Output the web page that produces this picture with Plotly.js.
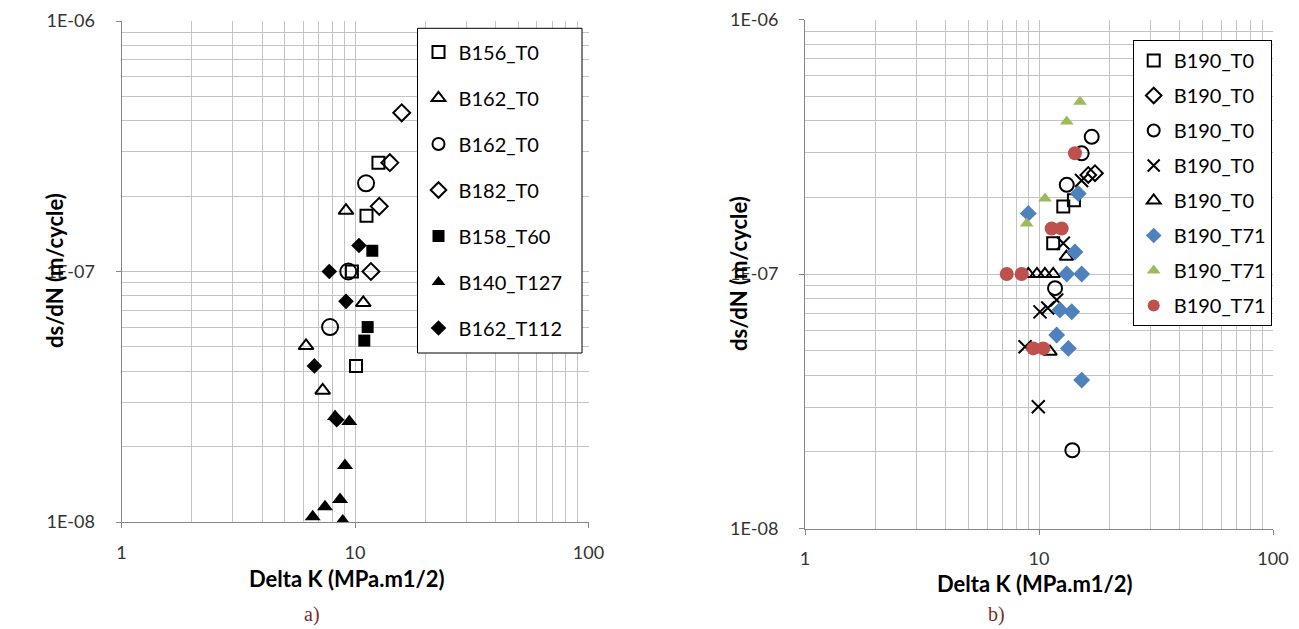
<!DOCTYPE html>
<html>
<head>
<meta charset="utf-8">
<script src="https://cdn.plot.ly/plotly-3.0.1.min.js"></script>
<style>html,body{margin:0;padding:0;background:#fff;}#chart{width:1299px;height:629px;}</style>
</head>
<body>
<div id="chart"></div>
<script>
// ---------- Data: chart a) ----------
const aNames = ['B156_T0', 'B162_T0', 'B162_T0', 'B182_T0', 'B158_T60', 'B140_T127', 'B162_T112'];
const aB156T0_x = [12.6, 11.2, 9.7, 10.1];
const aB156T0_y = [2.72e-7, 1.67e-7, 1.0e-7, 4.2e-8];
const aB162T0tri_x = [9.15, 10.85, 6.17, 7.27];
const aB162T0tri_y = [1.75e-7, 7.5e-8, 5.05e-8, 3.35e-8];
const aB162T0circ_x = [11.15, 9.36, 7.82];
const aB162T0circ_y = [2.25e-7, 1.0e-7, 6.0e-8];
const aB182T0_x = [15.85, 14.1, 12.7, 11.7];
const aB182T0_y = [4.3e-7, 2.72e-7, 1.82e-7, 1.0e-7];
const aB158T60_x = [11.86, 11.33, 10.96];
const aB158T60_y = [1.21e-7, 6.0e-8, 5.3e-8];
const aB140T127_x = [8.21, 9.45, 9.06, 8.63, 7.44, 6.59, 8.86];
const aB140T127_y = [2.64e-8, 2.52e-8, 1.68e-8, 1.23e-8, 1.15e-8, 1.05e-8, 1.01e-8];
const aB162T112_x = [10.4, 7.76, 9.15, 6.70, 8.35];
const aB162T112_y = [1.27e-7, 1.0e-7, 7.6e-8, 4.2e-8, 2.56e-8];

// ---------- Data: chart b) ----------
const bNames = ['B190_T0', 'B190_T0', 'B190_T0', 'B190_T0', 'B190_T0', 'B190_T71', 'B190_T71', 'B190_T71'];
const bSq_x = [12.7, 14.1, 11.5];
const bSq_y = [1.84e-7, 1.95e-7, 1.32e-7];
const bDia_x = [17.35, 16.24];
const bDia_y = [2.49e-7, 2.45e-7];
const bCirc_x = [16.8, 15.22, 13.14, 11.71, 13.88];
const bCirc_y = [3.46e-7, 2.98e-7, 2.24e-7, 8.8e-8, 2.03e-8];
const bX_x = [15.2, 12.7, 11.9, 10.9, 10.1, 8.72, 9.93];
const bX_y = [2.33e-7, 1.32e-7, 7.9e-8, 7.35e-8, 7.1e-8, 5.18e-8, 3.01e-8];
const bTri_x = [9.0, 9.8, 10.6, 11.5, 13.1, 11.14];
const bTri_y = [1.0e-7, 1.0e-7, 1.0e-7, 1.0e-7, 1.17e-7, 4.95e-8];
const bT71Dia_x = [9.0, 14.72, 14.25, 13.14, 15.22, 12.29, 13.8, 11.9, 13.35, 15.22];
const bT71Dia_y = [1.73e-7, 2.07e-7, 1.22e-7, 1.0e-7, 1.0e-7, 7.22e-8, 7.11e-8, 5.76e-8, 5.1e-8, 3.83e-8];
const bT71Tri_x = [14.97, 13.14, 10.61, 8.86];
const bT71Tri_y = [4.75e-7, 3.97e-7, 1.98e-7, 1.58e-7];
const bT71Circ_x = [14.25, 11.33, 12.5, 7.28, 8.43, 9.45, 10.43];
const bT71Circ_y = [2.98e-7, 1.51e-7, 1.51e-7, 1.0e-7, 1.0e-7, 5.1e-8, 5.1e-8];

// ---------- Tick labels ----------
const xTickVals = [1, 10, 100];
const xTickText = ['1', '10', '100'];
const yTickVals = [1e-8, 1e-7, 1e-6];
const yTickText = ['1E-08', '1E-07', '1E-06'];

const FONT = 'Lato, "Open Sans", sans-serif';
const W = 1299, H = 629;

function mk(x, y, name, symbol, size, color, lineColor, lineWidth, xa, ya, leg, i) {
  return {
    type: 'scatter', mode: 'markers', x: x, y: y, name: name,
    xaxis: xa, yaxis: ya, legend: leg, legendgroup: leg + '_' + i,
    marker: {symbol: symbol, size: size, color: color,
             line: {color: lineColor, width: lineWidth}},
    hoverinfo: 'x+y+name'
  };
}

const traces = [
  mk(aB156T0_x, aB156T0_y, aNames[0], 'square-open', 12, '#000', '#000', 2, 'x', 'y', 'legend', 0),
  mk(aB162T0tri_x, aB162T0tri_y, aNames[1], 'triangle-up-open', 13, '#000', '#000', 2, 'x', 'y', 'legend', 1),
  mk(aB162T0circ_x, aB162T0circ_y, aNames[2], 'circle-open', 16, '#000', '#000', 2, 'x', 'y', 'legend', 2),
  mk(aB182T0_x, aB182T0_y, aNames[3], 'diamond-open', 13, '#000', '#1a1a1a', 2, 'x', 'y', 'legend', 3),
  mk(aB158T60_x, aB158T60_y, aNames[4], 'square', 12, '#000', '#000', 0, 'x', 'y', 'legend', 4),
  mk(aB140T127_x, aB140T127_y, aNames[5], 'triangle-up', 14, '#000', '#000', 0, 'x', 'y', 'legend', 5),
  mk(aB162T112_x, aB162T112_y, aNames[6], 'diamond', 12, '#000', '#000', 0, 'x', 'y', 'legend', 6),

  mk(bSq_x, bSq_y, bNames[0], 'square-open', 12, '#000', '#000', 2, 'x2', 'y2', 'legend2', 0),
  mk(bDia_x, bDia_y, bNames[1], 'diamond-open', 12, '#000', '#000', 2, 'x2', 'y2', 'legend2', 1),
  mk(bCirc_x, bCirc_y, bNames[2], 'circle-open', 14, '#000', '#000', 2, 'x2', 'y2', 'legend2', 2),
  mk(bX_x, bX_y, bNames[3], 'x-thin-open', 13, '#000', '#000', 2, 'x2', 'y2', 'legend2', 3),
  mk(bTri_x, bTri_y, bNames[4], 'triangle-up-open', 12, '#000', '#000', 2, 'x2', 'y2', 'legend2', 4),
  mk(bT71Dia_x, bT71Dia_y, bNames[5], 'diamond', 13, '#4f81bd', '#4f81bd', 0, 'x2', 'y2', 'legend2', 5),
  mk(bT71Tri_x, bT71Tri_y, bNames[6], 'triangle-up', 12, '#9bbb59', '#9bbb59', 0, 'x2', 'y2', 'legend2', 6),
  mk(bT71Circ_x, bT71Circ_y, bNames[7], 'circle', 14, '#c0504d', '#c0504d', 0, 'x2', 'y2', 'legend2', 7)
];

const GRID = '#c4c4c4';
const LINE = '#868686';
const TICKFONT = {family: FONT, size: 18, color: '#333'};
function xax(domain, anchor) {
  return {
    type: 'log', range: [0, 2], domain: domain, anchor: anchor,
    tickmode: 'array', tickvals: xTickVals, ticktext: xTickText,
    showgrid: true, gridcolor: GRID, gridwidth: 1,
    minor: {dtick: 'D1', showgrid: true, gridcolor: GRID, gridwidth: 1, ticks: ''},
    showline: true, linecolor: LINE, linewidth: 1,
    ticks: 'outside', ticklen: 5, tickcolor: LINE,
    tickfont: TICKFONT,
    ticklabelstandoff: 9, zeroline: false, fixedrange: true
  };
}
function yax(domain, anchor) {
  return {
    type: 'log', range: [-8, -6], domain: domain, anchor: anchor,
    tickmode: 'array', tickvals: yTickVals, ticktext: yTickText,
    showgrid: true, gridcolor: GRID, gridwidth: 1,
    minor: {dtick: 'D1', showgrid: true, gridcolor: GRID, gridwidth: 1, ticks: ''},
    showline: true, linecolor: LINE, linewidth: 1,
    ticks: 'outside', ticklen: 5, tickcolor: LINE,
    tickfont: TICKFONT,
    ticklabelstandoff: 17, zeroline: false, fixedrange: true
  };
}

const TITLEFONT = {family: FONT, size: 22, color: '#000'};
const LABELFONT = {family: '"Liberation Serif", "DejaVu Serif", serif', size: 20, color: '#7b2d26'};
function ann(text, px, py, font, angle) {
  return {text: text, x: px / W, y: (H - py) / H, xref: 'paper', yref: 'paper',
          xanchor: 'center', yanchor: 'middle', textangle: angle || 0,
          showarrow: false, font: font};
}

const layout = {
  width: W, height: H,
  margin: {l: 0, r: 0, t: 0, b: 0},
  paper_bgcolor: '#fff', plot_bgcolor: '#fff',
  font: {family: FONT, color: '#000', size: 16},
  xaxis: xax([121.5 / W, 588.5 / W], 'y'),
  yaxis: yax([(H - 522) / H, (H - 21) / H], 'x'),
  xaxis2: xax([805 / W, 1273 / W], 'y2'),
  yaxis2: yax([(H - 528.5) / H, (H - 19.5) / H], 'x2'),
  legend: {
    x: 418.5 / W, y: (H - 32.5) / H, xanchor: 'left', yanchor: 'top',
    bgcolor: '#fff', borderwidth: 0,
    font: {family: FONT, size: 20, color: '#000'},
    traceorder: 'grouped', tracegroupgap: 17, itemsizing: 'constant'
  },
  legend2: {
    x: 1132.7 / W, y: (H - 40) / H, xanchor: 'left', yanchor: 'top',
    bgcolor: '#fff', bordercolor: '#000', borderwidth: 1,
    font: {family: FONT, size: 20, color: '#000'},
    traceorder: 'grouped', tracegroupgap: 6, itemsizing: 'constant'
  },
  shapes: [
    // white frame of the left legend box (the legend itself draws on top)
    {type: 'rect', xref: 'paper', yref: 'paper', layer: 'above',
     x0: 417.5 / W, x1: 582 / W, y0: (H - 353) / H, y1: (H - 28.3) / H,
     line: {color: '#000', width: 1}, fillcolor: '#fff'}
  ],
  annotations: [
    ann('<b>ds/dN (m/cycle)</b>', 54, 270, TITLEFONT, -90),
    ann('<b>ds/dN (m/cycle)</b>', 738, 274, TITLEFONT, -90),
    ann('<b>Delta K (MPa.m1/2)</b>', 347, 578, TITLEFONT),
    ann('<b>Delta K (MPa.m1/2)</b>', 1035, 583, TITLEFONT),
    ann('a)', 312, 614, LABELFONT),
    ann('b)', 996, 614, LABELFONT)
  ]
};

Plotly.newPlot('chart', traces, layout, {displayModeBar: false, staticPlot: true});
</script>
</body>
</html>
